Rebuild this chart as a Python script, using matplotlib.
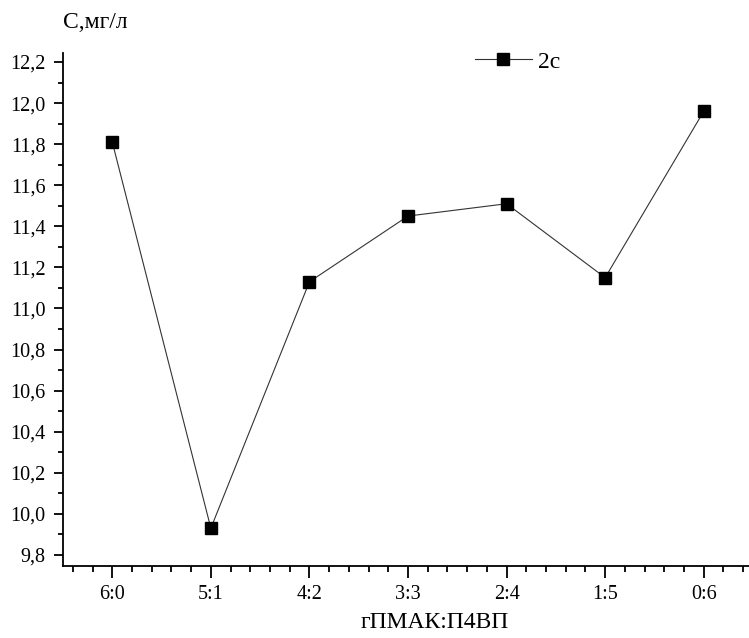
import matplotlib
matplotlib.use('Agg')
import matplotlib.pyplot as plt
from matplotlib.ticker import MultipleLocator
import numpy as np

###########
# Data

ratios = ['6:0', '5:1', '4:2', '3:3', '2:4', '1:5', '0:6']
conc_2c = [11.81, 9.93, 11.13, 11.45, 11.51, 11.15, 11.96]
series_name = '2c'

XLABEL = 'гПМАК:П4ВП'
YLABEL = 'С,мг/л'

plt.rcParams['font.family'] = ['Liberation Serif', 'DejaVu Serif']

fig = plt.figure(figsize=(7.49, 6.38), dpi=100)
ax = fig.add_axes([63/749, 72/638, 690/749, 513/638])

xpos = np.arange(1, len(ratios) + 1)
ax.plot(xpos, conc_2c, color='#333333', linewidth=0.8, marker='s',
        markersize=8.5, markerfacecolor='black', markeredgecolor='black',
        label=series_name)

ax.set_xlim(0.5, 7.5)
ax.set_ylim(9.746, 12.244)
ax.set_xticks(xpos)
ax.set_xticklabels(ratios)
ax.xaxis.set_minor_locator(MultipleLocator(0.2))
ax.yaxis.set_major_locator(MultipleLocator(0.2))
ax.yaxis.set_minor_locator(MultipleLocator(0.1))
ax.yaxis.set_major_formatter(matplotlib.ticker.FuncFormatter(
    lambda v, p: '{0:.1f}'.format(v).replace('.', ',')))

for side in ['top', 'right']:
    ax.spines[side].set_visible(False)
for side in ['left', 'bottom']:
    ax.spines[side].set_linewidth(1.3)

ax.tick_params(axis='y', which='major', direction='out', length=6.5,
               width=1.3, labelsize=14.5, pad=6)
ax.tick_params(axis='y', which='minor', direction='out', length=3.3, width=1.3)
ax.tick_params(axis='x', which='major', direction='out', length=8.5,
               width=1.3, labelsize=14.5, pad=5)
ax.tick_params(axis='x', which='minor', direction='out', length=4.3, width=1.3)

fig.text(435/749, 1 - 622/638, XLABEL, fontsize=17, ha='center', va='center')
fig.text(63/749, 1 - 22/638, YLABEL, fontsize=17, ha='left', va='center')

leg = ax.legend(loc='upper left', bbox_to_anchor=(475/749, 1 - 51/638),
                bbox_transform=fig.transFigure, frameon=False, fontsize=17,
                handlelength=2.4, handletextpad=0.25, borderpad=0,
                borderaxespad=0)

fig.savefig('out.png', dpi=100)
